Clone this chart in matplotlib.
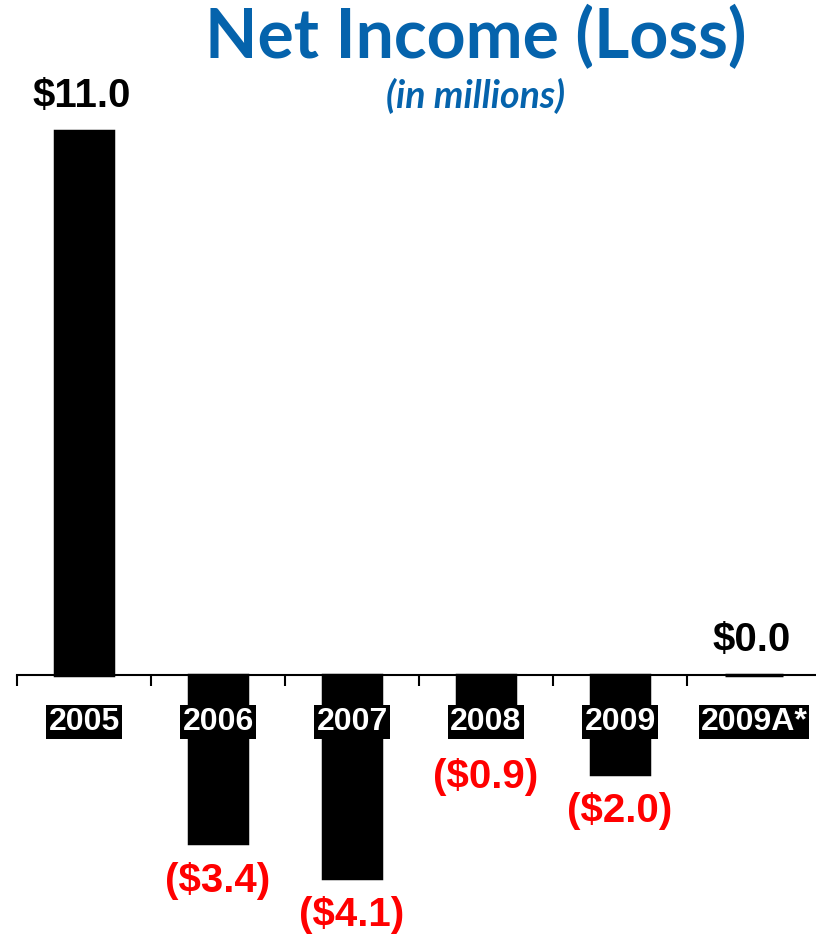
import matplotlib.pyplot as plt

# Net income by year, in millions of dollars
years = ['2005', '2006', '2007', '2008', '2009', '2009A*']
net_income = [11.0, -3.4, -4.1, -0.9, -2.0, 0.0]

blue = '#0563AC'
red = '#FF0000'

fig = plt.figure(figsize=(8.16, 9.35), dpi=100)

# axes placed so the zero line sits about 260 px from the bottom
px_per_unit = 49.45
y_min, y_max = -5.2, 11.5
zero_px = 260
ax = fig.add_axes([17 / 816, (zero_px + y_min * px_per_unit) / 935,
                   804 / 816, (y_max - y_min) * px_per_unit / 935])

x = range(len(years))
ax.bar(x, net_income, width=0.44, color='black', edgecolor='black', linewidth=2.5, zorder=3)

ax.set_xlim(-0.5, 5.5)
ax.set_ylim(y_min, y_max)
for side in ['top', 'right', 'left']:
    ax.spines[side].set_visible(False)
ax.spines['bottom'].set_position(('data', 0))
ax.spines['bottom'].set_linewidth(1.5)
ax.set_yticks([])
ax.set_xticks([i - 0.5 for i in range(len(years) + 1)])
ax.set_xticklabels([])
ax.tick_params(axis='x', direction='out', length=8, width=1.5)

# year labels: white on black boxes just under the axis
for i, yr in enumerate(years):
    ax.annotate(yr, xy=(i, 0), xytext=(0, -34), textcoords='offset points',
                ha='center', va='center', color='white', fontsize=23,
                fontweight='bold', family='Liberation Sans', zorder=4,
                bbox=dict(boxstyle='square,pad=0.06', facecolor='black', edgecolor='none'))

# value labels: positives above in black, losses below in red (clear of the year boxes)
for i, v in enumerate(net_income):
    if v >= 0:
        ax.annotate(f'${v:.1f}', xy=(i, v), xytext=(-2, 25), textcoords='offset points',
                    ha='center', va='center', color='black', fontsize=29,
                    fontweight='bold', family='Liberation Sans')
    else:
        ax.annotate(f'(${abs(v):.1f})', xy=(i, min(v, -1.3)), xytext=(0, -27),
                    textcoords='offset points', ha='center', va='center', color=red,
                    fontsize=29, fontweight='bold', family='Liberation Sans')

fig.text(476 / 816, 1 - 37 / 935, 'Net Income (Loss)', ha='center', va='center',
         color=blue, fontsize=49, fontweight='bold', family='Lato')
fig.text(476 / 816, 1 - 96 / 935, '(in millions)', ha='center', va='center',
         color=blue, fontsize=27, fontweight='bold', style='italic', family='Lato')

fig.savefig('out.png', dpi=100)
